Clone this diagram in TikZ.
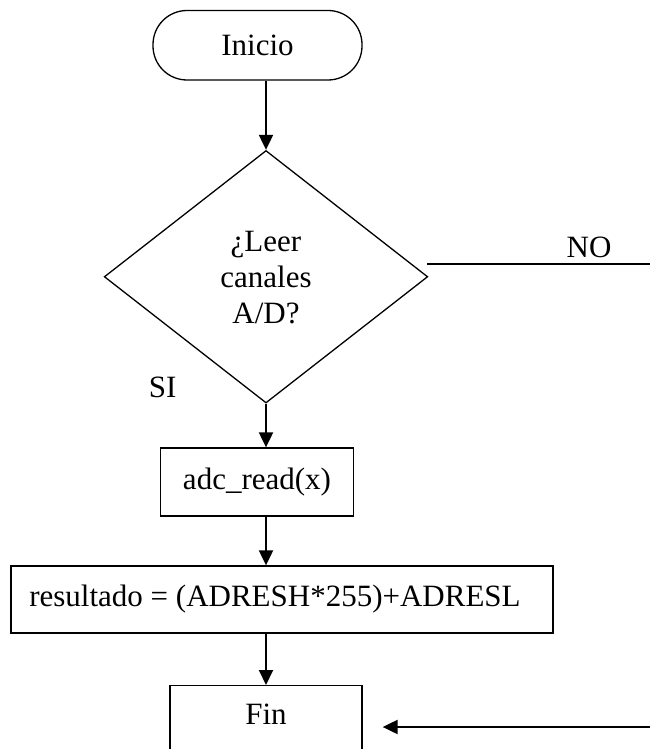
\documentclass[tikz,border=0pt]{standalone}
\usepackage{fontspec}
\setmainfont{Liberation Serif}
\usetikzlibrary{arrows.meta,shapes.geometric,calc}
\begin{document}
\begin{tikzpicture}[x=1pt,y=-1pt,
  every node/.style={font=\fontsize{31}{36}\selectfont},
  box/.style={draw,line width=1.3pt,rectangle,inner sep=0pt},
  term/.style={draw,line width=1.3pt,rectangle,rounded corners=34pt,inner sep=0pt},
  decision/.style={draw,line width=1.3pt,diamond,inner sep=0pt,align=center},
  flow/.style={line width=2pt,-{Triangle[length=15pt,width=14pt]}},
  plain/.style={line width=1.6pt},
  lbl/.style={inner sep=0pt}]
\useasboundingbox (0,0) rectangle (650,749);
\clip (0,0) rectangle (650,749);
\fill[white] (0,0) rectangle (650,749);
\node[term,minimum width=209pt,minimum height=69.5pt] (ini) at (257.5,45.25) {Inicio};
\node[decision,minimum width=323.5pt,minimum height=252.5pt] (dec) at (266,276.75) {};
\node[lbl,align=center] (dect) at (266,278) {¿Leer\\canales\\A/D?};
\node[box,minimum width=193.5pt,minimum height=68pt] (adc) at (257,482) {adc\_read(x)};
\node[box,minimum width=542pt,minimum height=67pt] (res) at (282,599.5) {resultado = (ADRESH*255)+ADRESL\hspace*{14pt}};
\node[box,anchor=north,minimum width=192pt,text height=39pt,text depth=40pt] (fin) at (266,685) {Fin};
\node[lbl] (no) at (589,247.5) {NO};
\node[lbl] (si) at (162.6,387) {SI};
\coordinate (noS) at (427,264);
\coordinate (noE) at (650,264);
\coordinate (back) at (650,727);
\draw[flow] (dec.north |- ini.south) -- (dec.north);
\draw[flow] (dec.south) -- (dec.south |- adc.north);
\draw[flow] (dec.south |- adc.south) -- (dec.south |- res.north);
\draw[flow] (dec.south |- res.south) -- (fin.north);
\draw[plain] (noS) -- (noE);
\draw[flow] (back) -- ([xshift=20pt]fin.east |- back);
\end{tikzpicture}
\end{document}
